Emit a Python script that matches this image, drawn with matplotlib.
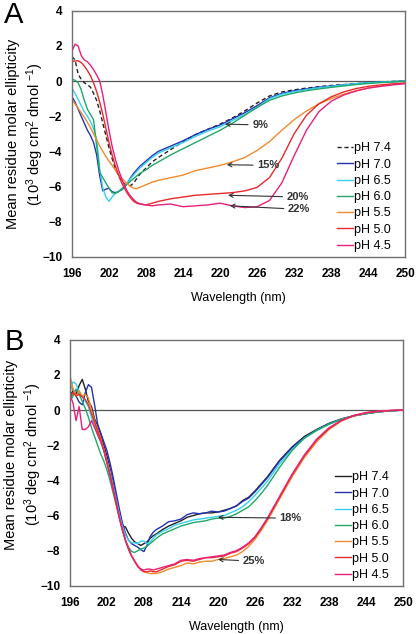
import numpy as np
import matplotlib
matplotlib.use("Agg")
import matplotlib.pyplot as plt

plt.rcParams['font.family'] = ['Liberation Sans', 'DejaVu Sans']
plt.rcParams['mathtext.default'] = 'regular'

# ---- panel A data ----
wl_a = [196, 196.5, 197, 197.5, 198, 198.5, 199, 199.5, 200, 200.5, 201, 201.5,
        202, 202.5, 203, 203.5, 204, 204.5, 205, 205.5, 206, 206.5, 207, 208,
        209, 210, 212, 214, 216, 218, 220, 222, 224, 226, 228, 230, 232, 234,
        236, 238, 240, 242, 244, 246, 248, 250]

a_ph74 = [1.4, 1.2, 0.4, 0.1, -0.1, -0.2, -0.35, -0.7, -1.1, -1.7, -2.4, -3.1,
          -3.8, -4.4, -4.95, -5.35, -5.65, -5.85, -5.95, -5.95, -5.8, -5.55, -5.3, -4.95,
          -4.6, -4.35, -3.9, -3.45, -3.05, -2.75, -2.45, -2.1, -1.7, -1.25, -0.85, -0.62, -0.5, -0.4,
          -0.32, -0.25, -0.2, -0.15, -0.1, -0.05, -0.02, 0.0]
a_ph70 = [-0.9, -1.2, -1.6, -2.0, -2.4, -2.8, -3.1, -3.5, -4.2, -5.4, -6.25, -6.15,
          -6.1, -6.3, -6.35, -6.3, -6.2, -6.05, -5.8, -5.5, -5.25, -5.05, -4.85, -4.55,
          -4.25, -4.0, -3.7, -3.4, -3.05, -2.75, -2.5, -2.15, -1.8, -1.4, -0.95, -0.7, -0.55, -0.45,
          -0.35, -0.28, -0.22, -0.16, -0.1, -0.06, -0.03, 0.0]
a_ph65 = [-0.4, -0.7, -1.05, -1.4, -1.75, -2.0, -2.3, -2.7, -3.3, -5.0, -6.1, -6.6,
          -6.85, -6.6, -6.4, -6.3, -6.15, -6.0, -5.8, -5.55, -5.35, -5.15, -4.95, -4.65,
          -4.35, -4.1, -3.8, -3.5, -3.15, -2.85, -2.6, -2.25, -1.9, -1.5, -1.0, -0.75, -0.6, -0.48,
          -0.38, -0.3, -0.22, -0.15, -0.1, -0.06, -0.03, 0.0]
a_ph60 = [0.1, 0.05, -0.1, -0.5, -1.1, -1.6, -1.9, -2.2, -3.7, -5.2, -5.5, -5.8,
          -6.1, -6.35, -6.4, -6.3, -6.15, -6.0, -5.85, -5.7, -5.55, -5.4, -5.25, -5.05,
          -4.8, -4.6, -4.2, -3.85, -3.5, -3.15, -2.8, -2.4, -1.95, -1.5, -1.1, -0.85, -0.68, -0.55,
          -0.45, -0.36, -0.28, -0.2, -0.14, -0.09, -0.05, -0.02]
a_ph55 = [-1.05, -1.3, -1.55, -1.8, -2.05, -2.35, -2.65, -3.0, -3.35, -3.7, -4.0, -4.3,
          -4.55, -4.8, -5.05, -5.3, -5.5, -5.7, -5.85, -6.0, -6.1, -6.12, -6.05, -5.9,
          -5.75, -5.65, -5.5, -5.35, -5.1, -4.95, -4.8, -4.6, -4.35, -3.95, -3.45, -2.8, -2.2, -1.7,
          -1.3, -1.0, -0.75, -0.55, -0.4, -0.28, -0.18, -0.1]
a_ph50 = [1.1, 1.15, 1.15, 1.05, 0.85, 0.6, 0.3, -0.1, -0.6, -1.2, -1.9, -2.7,
          -3.5, -4.2, -4.8, -5.3, -5.75, -6.1, -6.4, -6.65, -6.85, -6.95, -7.0, -7.05,
          -6.95, -6.85, -6.7, -6.6, -6.5, -6.45, -6.4, -6.35, -6.25, -6.05, -5.5, -4.4, -3.0, -1.95,
          -1.3, -0.9, -0.62, -0.43, -0.3, -0.22, -0.16, -0.12]
a_ph45 = [1.7, 2.1, 2.0, 1.45, 1.2, 1.1, 0.9, 0.65, 0.35, 0.0, -0.8, -1.8,
          -2.8, -3.7, -4.4, -5.0, -5.5, -5.95, -6.3, -6.55, -6.75, -6.9, -6.98, -7.05,
          -7.1, -7.05, -7.0, -7.15, -7.1, -7.05, -6.95, -7.1, -7.2, -7.15, -6.8, -5.8, -4.25, -2.8,
          -1.75, -1.15, -0.8, -0.57, -0.4, -0.3, -0.22, -0.15]

# ---- panel B data ----
wl_b = [196, 196.5, 197, 197.5, 198, 198.5, 199, 199.5, 200, 200.5, 201, 201.5,
        202, 202.5, 203, 203.5, 204, 204.5, 205, 205.5, 206, 206.5, 207, 207.5,
        208, 208.5, 209, 209.5, 210, 211, 212, 213, 214, 215, 216, 217, 218, 219,
        220, 221, 222, 223, 224, 225, 226, 227, 228, 230, 232, 234, 236, 238, 240,
        242, 244, 246, 248, 250]

b_ph74 = [0.8, 1.1, 0.9, 1.4, 1.75, 1.2, 0.5, 0.2, -0.5, -0.9, -1.4, -2.0,
          -2.6, -3.3, -4.1, -5.0, -5.9, -6.6, -6.65, -7.0, -7.3, -7.5, -7.6, -7.7,
          -7.6, -7.5, -7.3, -7.15, -7.05, -6.8, -6.6, -6.45, -6.3, -6.1, -6.0, -5.9, -5.85, -5.85,
          -5.8, -5.7, -5.6, -5.45, -5.15, -4.95, -4.6, -4.2, -3.8, -2.85, -2.1, -1.5, -1.1, -0.75, -0.5,
          -0.32, -0.2, -0.1, -0.04, 0.0]
b_ph70 = [1.4, 1.2, 0.8, 0.45, 0.3, 1.0, 1.45, 1.3, 0.3, -0.8, -1.3, -1.8,
          -2.3, -3.0, -3.8, -4.7, -5.6, -6.4, -7.0, -7.4, -7.6, -7.7, -7.8, -7.95,
          -8.05, -7.7, -7.2, -6.95, -6.8, -6.6, -6.35, -6.3, -6.2, -5.95, -5.85, -5.9, -5.85, -5.75,
          -5.8, -5.75, -5.6, -5.45, -5.2, -5.0, -4.65, -4.25, -3.85, -2.9, -2.15, -1.55, -1.15, -0.78, -0.52,
          -0.33, -0.2, -0.1, -0.04, 0.0]
b_ph65 = [1.0, 1.6, 1.5, 1.0, 0.8, 0.5, 0.2, -0.4, -0.9, -1.4, -1.8, -2.3,
          -2.9, -3.5, -4.3, -5.1, -5.9, -6.6, -7.1, -7.4, -7.55, -7.55, -7.6, -7.45,
          -7.45, -7.6, -7.5, -7.3, -7.1, -6.9, -6.75, -6.55, -6.45, -6.35, -6.25, -6.2, -6.15, -6.1,
          -6.05, -6.0, -5.85, -5.7, -5.5, -5.2, -4.85, -4.45, -4.05, -3.05, -2.25, -1.6, -1.15, -0.8, -0.52,
          -0.33, -0.2, -0.1, -0.04, 0.0]
b_ph60 = [0.5, 0.8, 1.2, 0.9, 0.5, 0.1, -0.4, -1.0, -1.5, -2.0, -2.5, -2.9,
          -3.4, -4.0, -4.7, -5.4, -6.1, -6.8, -7.4, -7.8, -8.05, -8.1, -8.0, -7.9,
          -7.85, -7.75, -7.6, -7.45, -7.3, -7.05, -6.9, -6.75, -6.6, -6.5, -6.4, -6.35, -6.3, -6.2,
          -6.15, -6.15, -6.05, -5.9, -5.7, -5.5, -5.15, -4.75, -4.3, -3.25, -2.3, -1.6, -1.15, -0.8, -0.52,
          -0.33, -0.2, -0.1, -0.04, 0.0]
b_ph55 = [2.0, 1.2, 0.8, 1.1, 0.8, 0.9, 0.7, 0.0, -0.6, -1.1, -1.6, -2.2,
          -2.9, -3.6, -4.4, -5.3, -6.1, -6.8, -7.4, -7.9, -8.3, -8.6, -8.85, -9.05,
          -9.2, -9.25, -9.3, -9.3, -9.3, -9.2, -9.05, -8.95, -8.85, -8.7, -8.75, -8.65, -8.6, -8.6,
          -8.5, -8.45, -8.35, -8.25, -8.05, -7.75, -7.35, -6.85, -6.3, -5.05, -3.8, -2.7, -1.8, -1.1, -0.62,
          -0.33, -0.16, -0.07, -0.02, 0.0]
b_ph50 = [0.6, 1.0, 0.8, 0.9, 0.75, 0.6, 0.3, -0.2, -0.7, -1.2, -1.7, -2.3,
          -3.0, -3.7, -4.5, -5.3, -6.1, -6.8, -7.4, -7.9, -8.3, -8.6, -8.9, -9.1,
          -9.2, -9.2, -9.15, -9.2, -9.2, -9.05, -8.9, -8.8, -8.6, -8.55, -8.6, -8.5, -8.4, -8.4,
          -8.35, -8.3, -8.15, -8.05, -7.85, -7.6, -7.25, -6.75, -6.2, -4.95, -3.7, -2.6, -1.7, -1.05, -0.6,
          -0.32, -0.15, -0.07, -0.02, 0.0]
b_ph45 = [0.9, 0.4, -0.6, 0.2, -1.1, -1.1, -0.95, -0.6, -1.0, -1.4, -1.8, -2.3,
          -3.0, -3.7, -4.5, -5.3, -6.1, -6.8, -7.4, -7.9, -8.3, -8.6, -8.9, -9.05,
          -9.1, -9.05, -9.05, -9.1, -9.05, -8.95, -8.85, -8.75, -8.55, -8.5, -8.55, -8.45, -8.4, -8.35,
          -8.3, -8.25, -8.1, -8.0, -7.8, -7.55, -7.2, -6.7, -6.15, -4.9, -3.65, -2.55, -1.65, -1.0, -0.58,
          -0.3, -0.14, -0.06, -0.02, 0.0]

labels = ['pH 7.4', 'pH 7.0', 'pH 6.5', 'pH 6.0', 'pH 5.5', 'pH 5.0', 'pH 4.5']
colors = ['#222222', '#2432b4', '#36d0ee', '#1fa86a', '#f08a2c', '#e82a2a', '#e8207a']

# helix content labels: (text, arrow tip wavelength, tip value, text wavelength, text value)
notes_a = [('9%', 220.8, -2.45, 225.2, -2.5),
           ('15%', 221.1, -4.76, 226.0, -4.8),
           ('20%', 221.3, -6.5, 230.8, -6.6),
           ('22%', 221.6, -7.1, 231.0, -7.3)]
notes_b = [('18%', 220.0, -6.1, 230.0, -6.15),
           ('25%', 220.0, -8.5, 224.0, -8.6)]

fig = plt.figure(figsize=(4.16, 6.34), dpi=100)
ax1 = fig.add_axes([0.173, 0.595, 0.801, 0.388])
ax2 = fig.add_axes([0.168, 0.076, 0.801, 0.388])

series_a = [a_ph74, a_ph70, a_ph65, a_ph60, a_ph55, a_ph50, a_ph45]
series_b = [b_ph74, b_ph70, b_ph65, b_ph60, b_ph55, b_ph50, b_ph45]


def style(ax, notes, leg_y):
    ax.axhline(0, color='#555555', lw=0.9, zorder=1)
    ax.set_xlim(196, 250)
    ax.set_ylim(-10, 4)
    ax.set_xticks(np.arange(196, 251, 6))
    ax.set_yticks(np.arange(-10, 5, 2))
    ax.tick_params(length=0, labelsize=8.5)
    ax.tick_params(axis='x', pad=8)
    ax.tick_params(axis='y', pad=7)
    for t in ax.get_xticklabels() + ax.get_yticklabels():
        t.set_fontweight('bold')
    for s in ax.spines.values():
        s.set_color('#707070')
        s.set_linewidth(1.0)
    ax.set_xlabel('Wavelength (nm)', fontsize=9, labelpad=9)
    for txt, x0, y0, x1, y1 in notes:
        ax.annotate(txt, xy=(x0, y0), xytext=(x1, y1), fontsize=8, fontweight='bold',
                    va='center', ha='left', color='#333333',
                    arrowprops=dict(arrowstyle='->,head_length=0.35,head_width=0.18',
                                    color='#333333', lw=0.8, shrinkA=1, shrinkB=0))
    ax.legend(loc='upper left', bbox_to_anchor=(0.795, leg_y), frameon=False,
              fontsize=9, handlelength=1.3, handletextpad=0.05, labelspacing=0.34,
              borderpad=0, borderaxespad=0)


for i in range(7):
    ls = '--' if i == 0 else '-'
    ax1.plot(wl_a, series_a[i], color=colors[i], lw=1.0, ls=ls, label=labels[i],
             dashes=(3, 2) if i == 0 else (None, None))
    ax2.plot(wl_b, series_b[i], color=colors[i], lw=1.0, label=labels[i])

style(ax1, notes_a, 0.465)
style(ax2, notes_b, 0.465)

ylab = 'Mean residue molar ellipticity\n(10$^3$ deg cm$^2$ dmol $^{-1}$)'
fig.text(0.062, 0.789, ylab, rotation=90, ha='center', va='center',
         multialignment='center', fontsize=10.5, linespacing=1.25)
fig.text(0.058, 0.283, ylab, rotation=90, ha='center', va='center',
         multialignment='center', fontsize=10.5, linespacing=1.25)

fig.text(0.01, 0.998, 'A', fontsize=21, va='top', ha='left')
fig.text(0.01, 0.483, 'B', fontsize=21, va='top', ha='left')

fig.savefig('out.png', dpi=100)
